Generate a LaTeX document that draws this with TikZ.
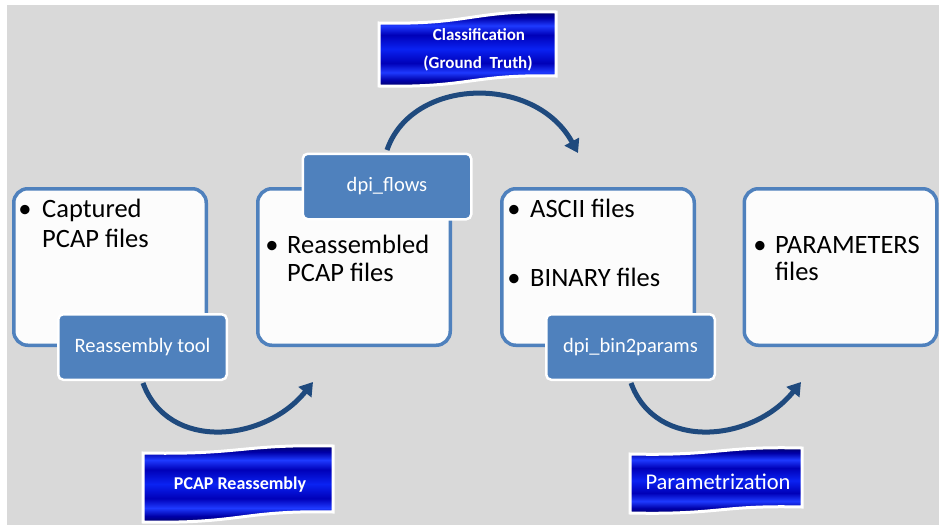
\documentclass[tikz,border=0pt]{standalone}
\usepackage{fontspec}
\setmainfont{Carlito}
\usetikzlibrary{arrows.meta}

\definecolor{panelgray}{HTML}{D9D9D9}
\definecolor{accent}{HTML}{4F81BD}
\definecolor{arcblue}{HTML}{1F4A7E}
\definecolor{boxfill}{HTML}{FCFCFC}
\definecolor{bwA}{HTML}{000058}
\definecolor{bwB}{HTML}{0000A8}
\definecolor{bwC}{HTML}{1E3AFF}
\definecolor{bwD}{HTML}{0000B8}
\definecolor{bwE}{HTML}{0A22F2}

% striped blue fill of the wavy banners
\pgfdeclareverticalshading{bannerwave}{100bp}{%
  color(0bp)=(bwA); color(25bp)=(bwA); color(30bp)=(bwB); color(35bp)=(bwC);
  color(41bp)=(bwD); color(50bp)=(bwE); color(59bp)=(bwD);
  color(65bp)=(bwC); color(70bp)=(bwB); color(75bp)=(bwA); color(100bp)=(bwA)}

\tikzset{
  stagebox/.style={draw=accent, line width=3.5pt, fill=boxfill, rounded corners=14pt,
    minimum width=192.5pt, minimum height=156.5pt, inner sep=0pt},
  toolbox/.style={draw=white, line width=2.5pt, fill=accent, rounded corners=5pt,
    minimum width=168.5pt, minimum height=65.5pt, inner sep=0pt, text=white,
    font=\fontsize{20.5}{24}\selectfont},
  itemtext/.style={anchor=base west, inner sep=0pt, font=\fontsize{26.5}{30}\selectfont},
  bulletmark/.style={anchor=base, inner sep=0pt, font=\fontsize{26.5}{30}\selectfont},
  flowarc/.style={draw=arcblue, line width=5pt, -{Triangle[length=13pt,width=16pt]}},
  bannershape/.style={draw=white, line width=3pt, shade, shading=bannerwave},
  bannertext/.style={text=white, inner sep=0pt},
}

% wavy banner: left x, right x, top-left y, top-right y, bottom-left y, bottom-right y
\newcommand\wavebanner[6]{%
  \path[bannershape] (#1,#3)
    .. controls ({#1+0.52*(#2-#1)},#3+2) and ({#1+0.52*(#2-#1)},#4-2) .. (#2,#4)
    -- (#2,#6)
    .. controls ({#1+0.52*(#2-#1)},#6-2) and ({#1+0.52*(#2-#1)},#5+2) .. (#1,#5)
    -- cycle;}

\begin{document}
\begin{tikzpicture}[x=1pt, y=-1pt]
  \useasboundingbox (0,0) rectangle (939,525);
  \fill[white] (0,0) rectangle (939,525);
  \fill[panelgray] (7,5) rectangle (939,525);

  % stage boxes
  \node[stagebox] (box1) at (110,267) {};
  \node[stagebox] (box2) at (354,267) {};
  \node[stagebox] (box3) at (598,267) {};
  \node[stagebox] (box4) at (840.5,267) {};

  % box contents
  \node[bulletmark] (b1dot) at (25,217) {•};
  \node[itemtext] (b1l1) at (42,217) {Captured};
  \node[itemtext] (b1l2) at (42,247) {PCAP files};

  \node[bulletmark] (b2dot) at (272,253) {•};
  \node[itemtext] (b2l1) at (287,253) {Reassembled};
  \node[itemtext] (b2l2) at (287,281) {PCAP files};

  \node[bulletmark] (b3dot1) at (514,217) {•};
  \node[itemtext] (b3l1) at (530,217) {ASCII files};
  \node[bulletmark] (b3dot2) at (514,286) {•};
  \node[itemtext] (b3l2) at (530,286) {BINARY files};

  \node[bulletmark] (b4dot) at (760,253) {•};
  \node[itemtext] (b4l1) at (775,253) {PARAMETERS};
  \node[itemtext] (b4l2) at (775,280) {files};

  % curved flow arrows
  \coordinate (a1s) at (143,383);
  \coordinate (a1e) at (313,382);
  \draw[flowarc] (a1s) .. controls (168,452) and (265,442) .. (a1e);

  \coordinate (a2s) at (387,150);
  \coordinate (a2e) at (578,153);
  \draw[flowarc] (a2s) .. controls (412,77) and (535,74) .. (a2e);

  \coordinate (a3s) at (631,383);
  \coordinate (a3e) at (801,382);
  \draw[flowarc] (a3s) .. controls (656,452) and (753,442) .. (a3e);

  % tool tabs
  \node[toolbox] (tool1) at (142.5,347) {Reassembly tool};
  \node[toolbox] (tool2) at (387,186.5) {dpi\_flows};
  \node[toolbox] (tool3) at (630.5,347) {dpi\_bin2params};

  % banners
  \wavebanner{379}{556}{23}{12}{86}{76}
  \node[bannertext, font=\bfseries\fontsize{17}{20}\selectfont] (ban1a) at (479,35) {Classification};
  \node[bannertext, font=\bfseries\fontsize{17}{20}\selectfont] (ban1b) at (478,63) {(Ground\ \ Truth)};

  \wavebanner{143}{333}{453}{446}{522}{512}
  \node[bannertext, font=\bfseries\fontsize{18}{20}\selectfont] (ban2) at (240,485) {PCAP Reassembly};

  \wavebanner{630}{802}{454}{448}{513}{507}
  \node[bannertext, font=\fontsize{22.5}{24}\selectfont] (ban3) at (718,482) {Parametrization};
\end{tikzpicture}
\end{document}
